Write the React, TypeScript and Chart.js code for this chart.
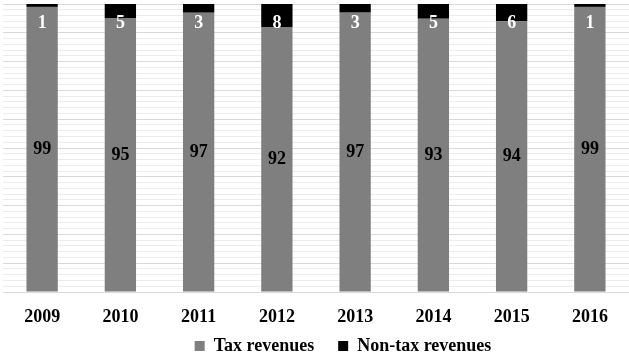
import React, { useEffect, useRef } from "react";
import { Chart, registerables } from "chart.js";

Chart.register(...registerables);

const years = ["2009", "2010", "2011", "2012", "2013", "2014", "2015", "2016"];
const taxRevenues = [99, 95, 97, 92, 97, 93, 94, 99];
const nonTaxRevenues = [1, 5, 3, 8, 3, 5, 6, 1];

// 100% stacked shares
const totals = taxRevenues.map((v, i) => v + nonTaxRevenues[i]);
const taxShare = taxRevenues.map((v, i) => (v / totals[i]) * 100);
const nonTaxShare = nonTaxRevenues.map((v, i) => (v / totals[i]) * 100);

const FONT = "'Liberation Serif', 'Times New Roman', serif";

const labelPlugin = {
  id: "barLabels",
  afterLayout(chart: any) {
    const lg = chart.legend;
    if (lg) {
      lg.top -= 15;
      lg.bottom -= 15;
      lg.left += 27;
      lg.right += 27;
    }
  },
  afterDatasetsDraw(chart: any) {
    const ctx = chart.ctx;
    const yScale = chart.scales.y;
    ctx.save();
    ctx.font = `bold 18px ${FONT}`;
    ctx.textAlign = "center";
    ctx.textBaseline = "middle";
    const meta0 = chart.getDatasetMeta(0);
    meta0.data.forEach((bar: any, i: number) => {
      ctx.fillStyle = "#000000";
      ctx.fillText(String(taxRevenues[i]), bar.x, (bar.y + bar.base) / 2);
    });
    const meta1 = chart.getDatasetMeta(1);
    meta1.data.forEach((bar: any, i: number) => {
      ctx.fillStyle = "#ffffff";
      ctx.fillText(String(nonTaxRevenues[i]), bar.x, yScale.getPixelForValue(100) + 19);
    });
    ctx.restore();
  },
};

export default function App() {
  const ref = useRef<HTMLCanvasElement | null>(null);
  useEffect(() => {
    document.body.style.margin = "0";
    const chart = new Chart(ref.current as HTMLCanvasElement, {
      type: "bar",
      data: {
        labels: years,
        datasets: [
          {
            label: "Tax revenues",
            data: taxShare,
            backgroundColor: "#7f7f7f",
            barPercentage: 0.4,
            categoryPercentage: 1,
          },
          {
            label: "Non-tax revenues",
            data: nonTaxShare,
            backgroundColor: "#000000",
            barPercentage: 0.4,
            categoryPercentage: 1,
          },
        ],
      },
      options: {
        animation: false,
        responsive: false,
        maintainAspectRatio: false,
        layout: { padding: { left: 3, top: 4, right: 0, bottom: -25 } },
        plugins: {
          tooltip: { enabled: false },
          legend: {
            position: "bottom",
            labels: {
              boxWidth: 10,
              boxHeight: 10,
              padding: 24,
              color: "#000000",
              font: { family: FONT, size: 18, weight: "bold" },
            },
          },
        },
        scales: {
          x: {
            stacked: true,
            grid: { display: false },
            border: { display: true, color: "#d9d9d9" },
            ticks: {
              color: "#000000",
              padding: 7,
              font: { family: FONT, size: 18, weight: "bold" },
            },
            afterFit: (scale: any) => {
              scale.height = 36;
            },
          },
          y: {
            stacked: true,
            min: 0,
            max: 100,
            border: { display: false },
            ticks: { display: false, stepSize: 2 },
            grid: {
              drawTicks: false,
              color: (c: any) => (c.tick && c.tick.value % 10 === 0 ? "#d9d9d9" : "#ececec"),
            },
          },
        },
      },
      plugins: [labelPlugin],
    });
    return () => chart.destroy();
  }, []);
  return (
    <div style={{ width: 629, height: 355 }}>
      <canvas ref={ref} width={629} height={355} style={{ display: "block" }} />
    </div>
  );
}
